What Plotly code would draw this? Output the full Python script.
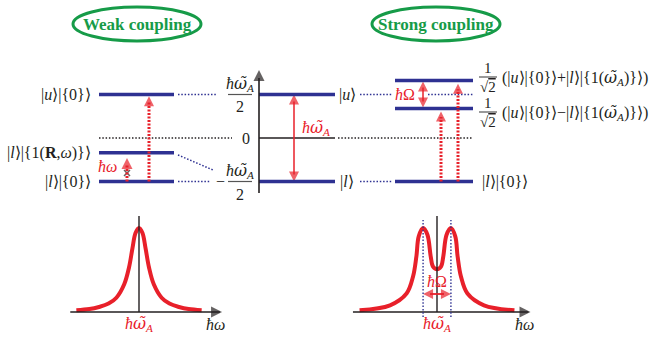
import plotly.graph_objects as go

# ---------------- data (energies in units of ħω̃_A) ----------------
OMT = "<span style='font-family:DejaVu Serif'><i>ω̃</i></span>"
weak_labels = ["|<i>u</i>⟩|{0}⟩", "|<i>l</i>⟩|{1(<b>R</b>,<i>ω</i>)}⟩", "|<i>l</i>⟩|{0}⟩"]
weak_energies = [0.5, -0.17, -0.5]
bare_labels = ["|<i>u</i>⟩", "|<i>l</i>⟩"]
bare_energies = [0.5, -0.5]
strong_labels = ["|<i>u</i>⟩|{0}⟩+|<i>l</i>⟩|{1(" + OMT + "<sub><i>A</i></sub>)}⟩",
                 "|<i>u</i>⟩|{0}⟩−|<i>l</i>⟩|{1(" + OMT + "<sub><i>A</i></sub>)}⟩",
                 "|<i>l</i>⟩|{0}⟩"]
strong_energies = [0.66, 0.34, -0.5]
zero_label = "0"

# spectra: detuning ħω−ħω̃_A (same unit) vs normalised intensity
spec_x_weak = [-0.72, -0.57, -0.46, -0.35, -0.26, -0.17, -0.115, -0.075, -0.04, 0.0,
               0.04, 0.075, 0.115, 0.17, 0.26, 0.35, 0.46, 0.57, 0.72]
spec_y_weak = [0.02, 0.035, 0.06, 0.10, 0.17, 0.33, 0.53, 0.76, 0.94, 1.0,
               0.94, 0.76, 0.53, 0.33, 0.17, 0.10, 0.06, 0.035, 0.02]
spec_x_strong = [-0.89, -0.54, -0.35, -0.276, -0.237, -0.21, -0.16, -0.11, -0.072, -0.046, 0.0,
                 0.046, 0.072, 0.11, 0.16, 0.21, 0.237, 0.276, 0.35, 0.54, 0.89]
spec_y_strong = [0.02, 0.08, 0.22, 0.42, 0.66, 0.90, 1.0, 0.92, 0.66, 0.54, 0.51,
                 0.54, 0.66, 0.92, 1.0, 0.90, 0.66, 0.42, 0.22, 0.08, 0.02]
rabi_split = 0.32
spec_tick_label = "<i>ħ</i>" + OMT + "<sub><i>A</i></sub>"
spec_axis_label = "<i>ħω</i>"
titles = ["Weak coupling", "Strong coupling"]

# ---------------- styles ----------------
NAVY = "#2e3192"
RED = "#e8202a"
GREEN = "#169b48"
BLACK = "#231f20"
SERIF = "Liberation Serif"
W, H = 652, 337
HW = "<i>ħ</i>" + OMT + "<sub><i>A</i></sub>"

fig = go.Figure()


def E(py):  # layout helper: vertical pixel -> energy axis value (for decorations)
    return (138 - py) / 87.0


def S(py):  # vertical pixel -> spectrum axis value
    return (312 - py) / 84.0


def hline(x0, x1, e, color, width, dash=None, xref="x", yref="y"):
    fig.add_shape(type="line", x0=x0, x1=x1, y0=e, y1=e, xref=xref, yref=yref,
                  line=dict(color=color, width=width, dash=dash))


def seg(x0, y0, x1, y1, color, width, dash=None, xref="x", yref="y"):
    fig.add_shape(type="line", x0=x0, x1=x1, y0=y0, y1=y1, xref=xref, yref=yref,
                  line=dict(color=color, width=width, dash=dash))


heads = {"x": [], "y": [], "s": [], "c": [], "z": []}
heads2 = {"x": [], "y": [], "s": [], "c": [], "z": []}
heads3 = {"x": [], "y": [], "s": [], "c": [], "z": []}


def head(store, x, y, sym, color, size):
    store["x"].append(x); store["y"].append(y); store["s"].append(sym)
    store["c"].append(color); store["z"].append(size)


def text(x, y, t, size=16, color=BLACK, xanchor="center", xref="x", yref="y"):
    fig.add_annotation(x=x, y=y, xref=xref, yref=yref, text=t, showarrow=False,
                       xanchor=xanchor, yanchor="middle",
                       font=dict(family=SERIF, size=size, color=color))


DOT = "2px,1.5px"
FINE = "1.5px,1.8px"

# ---- titles with ellipses ----
for cx, t in zip([137, 436], titles):
    fig.add_shape(type="circle", xref="x", yref="paper", x0=cx - 64, x1=cx + 64,
                  y0=1 - 41 / H, y1=1 - 7 / H, line=dict(color=GREEN, width=3))
    fig.add_annotation(x=cx, y=1 - 24 / H, xref="x", yref="paper", text="<b>%s</b>" % t,
                       showarrow=False, xanchor="center", yanchor="middle",
                       font=dict(family=SERIF, size=17, color=GREEN))

# ---- zero line ----
hline(99, 232, 0.0, BLACK, 1.3, FINE)
hline(259, 335, 0.0, BLACK, 1.5)
hline(338, 473, 0.0, BLACK, 1.3, FINE)
text(246, 0.0, zero_label)

# ---- weak coupling levels ----
for lab, e in zip(weak_labels, weak_energies):
    hline(99, 174, e, NAVY, 3.5)
    text(93, e, lab, xanchor="right")
hline(178, 216, weak_energies[0], NAVY, 1.5, FINE)
hline(178, 210, weak_energies[2], NAVY, 1.5, FINE)
seg(178, weak_energies[1] - 0.025, 213, E(170), NAVY, 1.5, FINE)

# weak: red dotted arrows
seg(149, weak_energies[2], 149, weak_energies[0] - 0.08, RED, 3, DOT)
head(heads, 149, weak_energies[0] - 0.02, "arrow-up", RED, 10)
tip_small = weak_energies[1] - 0.06
seg(127, weak_energies[2], 127, tip_small - 0.08, RED, 3, DOT)
head(heads, 127, tip_small, "arrow-up", RED, 11)
head(heads, 127, E(173), "x-thin-open", BLACK, 6)
text(107, E(166), "<i>ħω</i>", color=RED)

# ---- central bare levels and axis ----
for e in bare_energies:
    hline(259, 335, e, NAVY, 3.5)
seg(259, E(193), 259, E(78), BLACK, 1.6)
head(heads, 259, E(70), "arrow-up", BLACK, 11)

# fractions ±ħω̃_A/2
text(240, E(84), HW)
seg(228, bare_energies[0], 252, bare_energies[0], "#555", 1.2)
text(240, E(106), "2")
text(240, E(171), HW)
seg(228, bare_energies[1], 252, bare_energies[1], "#555", 1.2)
text(240, E(194), "2")
text(220, bare_energies[1], "−")

# middle double arrow
seg(294, bare_energies[1] + 0.08, 294, bare_energies[0] - 0.08, RED, 1.5)
head(heads, 294, bare_energies[0], "arrow-up", RED, 10)
head(heads, 294, bare_energies[1], "arrow-down", RED, 10)
text(300, E(128), HW, color=RED, xanchor="left")

# ---- strong coupling ----
text(347, bare_energies[0], bare_labels[0])
text(347, bare_energies[1], bare_labels[1])
hline(360, 392, bare_energies[0], NAVY, 1.5, FINE)
hline(428, 473, bare_energies[0], NAVY, 1.5, FINE)
hline(360, 392, bare_energies[1], NAVY, 1.5, FINE)
for e in strong_energies:
    hline(395, 473, e, NAVY, 3.5)
text(405, bare_energies[0], "<i>ħ</i>Ω", color=RED)

# Rabi double arrow
seg(423, strong_energies[1] + 0.08, 423, strong_energies[0] - 0.08, RED, 1.5)
head(heads, 423, strong_energies[0] - 0.01, "arrow-up", RED, 10)
head(heads, 423, strong_energies[1] + 0.01, "arrow-down", RED, 10)
# dotted excitation arrows
seg(441, strong_energies[2], 441, strong_energies[1] - 0.1, RED, 3, DOT)
head(heads, 441, strong_energies[1] - 0.035, "arrow-up", RED, 10)
seg(458, strong_energies[2], 458, strong_energies[0] - 0.1, RED, 3, DOT)
head(heads, 458, strong_energies[0] - 0.035, "arrow-up", RED, 10)

# polariton labels (1/√2 fractions)
for bar_py, lab in zip([77, 112], strong_labels[:2]):
    text(488, E(bar_py - 9), "1", size=15)
    seg(479, E(bar_py), 497, E(bar_py), "#555", 1.2)
    text(488, E(bar_py + 10), "√<span style='text-decoration:overline'>2</span>", size=15)
    text(500, E(bar_py + 1), "(" + lab + ")", size=16, xanchor="left")
text(480, strong_energies[2], strong_labels[2], xanchor="left")

# ---- spectra ----
fig.add_trace(go.Scatter(x=spec_x_weak, y=spec_y_weak, xaxis="x2", yaxis="y2", mode="lines",
                         line=dict(color=RED, width=4, shape="spline", smoothing=1.0),
                         hoverinfo="skip"))
fig.add_trace(go.Scatter(x=spec_x_strong, y=spec_y_strong, xaxis="x3", yaxis="y2", mode="lines",
                         line=dict(color=RED, width=4, shape="spline", smoothing=1.0),
                         hoverinfo="skip"))

# weak spectrum axes
seg(-0.79, 0, 0.93, 0, BLACK, 1.6, xref="x2", yref="y2")
head(heads2, 0.955, 0, "arrow-right", BLACK, 11)
seg(0, 0, 0, S(216), BLACK, 1.4, xref="x2", yref="y2")
text(0, S(324), spec_tick_label, color=RED, xref="x2", yref="y2")
text(0.875, S(324), spec_axis_label, xref="x2", yref="y2")

# strong spectrum axes
seg(-0.966, 0, 1.05, 0, BLACK, 1.6, xref="x3", yref="y2")
head(heads3, 1.075, 0, "arrow-right", BLACK, 11)
seg(0, 0, 0, S(216), BLACK, 1.4, xref="x3", yref="y2")
for xv in (-rabi_split / 2, rabi_split / 2):
    seg(xv, S(317), xv, S(220), NAVY, 1.4, FINE, xref="x3", yref="y2")
seg(-rabi_split / 2 + 0.08, S(294), rabi_split / 2 - 0.08, S(294), RED, 1.8, xref="x3", yref="y2")
head(heads3, -rabi_split / 2, S(294), "arrow-left", RED, 10)
head(heads3, rabi_split / 2, S(294), "arrow-right", RED, 10)
text(0, S(281), "<i>ħ</i>Ω", color=RED, xref="x3", yref="y2")
text(0, S(324), spec_tick_label, color=RED, xref="x3", yref="y2")
text(1.0, S(324), spec_axis_label, xref="x3", yref="y2")

for store, xa, ya in ((heads, "x", "y"), (heads2, "x2", "y2"), (heads3, "x3", "y2")):
    fig.add_trace(go.Scatter(x=store["x"], y=store["y"], xaxis=xa, yaxis=ya, mode="markers",
                             marker=dict(symbol=store["s"], color=store["c"], size=store["z"],
                                         line=dict(width=[1.5 if s.startswith("x") else 0 for s in store["s"]],
                                                   color=store["c"])),
                             cliponaxis=False, hoverinfo="skip"))

ax_common = dict(visible=False, fixedrange=True, domain=[0, 1])
fig.update_layout(
    width=W, height=H, autosize=False,
    margin=dict(l=0, r=0, t=0, b=0, pad=0),
    paper_bgcolor="white", plot_bgcolor="rgba(0,0,0,0)",
    showlegend=False,
    xaxis=dict(range=[0, W], **ax_common),
    yaxis=dict(range=[E(H), E(0)], **ax_common),
    xaxis2=dict(range=[-139 / 87, (W - 139) / 87], overlaying="x", anchor="y2", **ax_common),
    xaxis3=dict(range=[-437 / 87, (W - 437) / 87], overlaying="x", anchor="y2", **ax_common),
    yaxis2=dict(range=[S(H), S(0)], overlaying="y", anchor="x2", **ax_common),
)
fig.write_html("out.html", config={"displayModeBar": False, "staticPlot": True},
               post_script="document.body.style.margin='0';document.body.style.overflow='hidden';")
